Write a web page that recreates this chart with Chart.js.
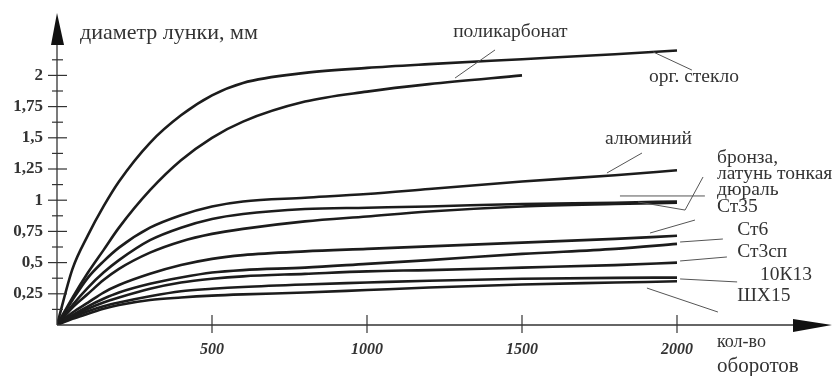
<!DOCTYPE html>
<html>
<head>
<meta charset="utf-8">
<script src="https://cdn.jsdelivr.net/npm/chart.js@4.4.0/dist/chart.umd.min.js"></script>
<style>
html,body{margin:0;padding:0;background:#fff;}
#wrap{width:832px;height:376px;position:relative;}
</style>
</head>
<body>
<div id="wrap"><canvas id="c"></canvas></div>
<script>
// ---- data ----
const rotations = [0, 50, 100, 150, 200, 300, 400, 500, 600, 800, 1000, 1200, 1500, 1800, 2000];
const orgGlass      = [0, 0.45, 0.72, 0.95, 1.15, 1.46, 1.68, 1.84, 1.94, 2.02, 2.06, 2.09, 2.13, 2.17, 2.20];
const polycarbonate = [0, 0.22, 0.42, 0.60, 0.78, 1.08, 1.32, 1.50, 1.63, 1.79, 1.87, 1.93, 2.00, null, null];
const aluminium     = [0, 0.20, 0.38, 0.51, 0.62, 0.78, 0.88, 0.95, 0.99, 1.02, 1.05, 1.09, 1.15, 1.20, 1.24];
const bronze        = [0, 0.16, 0.30, 0.42, 0.52, 0.68, 0.78, 0.85, 0.89, 0.93, 0.94, 0.95, 0.97, 0.98, 0.99];
const duralumin     = [0, 0.14, 0.25, 0.36, 0.45, 0.58, 0.67, 0.73, 0.77, 0.83, 0.87, 0.91, 0.95, 0.97, 0.98];
const st35          = [0, 0.10, 0.18, 0.26, 0.32, 0.41, 0.48, 0.53, 0.56, 0.59, 0.61, 0.63, 0.66, 0.69, 0.715];
const st6           = [0, 0.08, 0.15, 0.21, 0.26, 0.33, 0.38, 0.42, 0.44, 0.46, 0.49, 0.52, 0.57, 0.61, 0.65];
const st3sp         = [0, 0.07, 0.13, 0.18, 0.22, 0.29, 0.34, 0.37, 0.39, 0.41, 0.43, 0.44, 0.46, 0.48, 0.50];
const k13           = [0, 0.06, 0.11, 0.15, 0.18, 0.23, 0.27, 0.29, 0.305, 0.325, 0.34, 0.355, 0.37, 0.378, 0.38];
const shx15         = [0, 0.05, 0.09, 0.13, 0.16, 0.20, 0.22, 0.235, 0.245, 0.26, 0.28, 0.30, 0.325, 0.34, 0.35];

const seriesNames = ['орг. стекло', 'поликарбонат', 'алюминий', 'бронза, латунь тонкая', 'дюраль', 'Ст35', 'Ст6', 'Ст3сп', '10К13', 'ШХ15'];
const seriesValues = [orgGlass, polycarbonate, aluminium, bronze, duralumin, st35, st6, st3sp, k13, shx15];

const xTickValues = [500, 1000, 1500, 2000];
const xTickLabels = ['500', '1000', '1500', '2000'];
const yTickValues = [0.25, 0.5, 0.75, 1, 1.25, 1.5, 1.75, 2];
const yTickLabels = ['0,25', '0,5', '0,75', '1', '1,25', '1,5', '1,75', '2'];
const yMinorValues = [0.125, 0.375, 0.625, 0.875, 1.125, 1.375, 1.625, 1.875, 2.125];

const yTitle = 'диаметр лунки, мм';
const xTitle = ['кол-во', 'оборотов'];

// curve label texts, anchored in data units (rotations, mm)
const labelTexts = ['поликарбонат', 'орг. стекло', 'алюминий', 'бронза,', 'латунь тонкая', 'дюраль', 'Ст35', 'Ст6', 'Ст3сп', '10К13', 'ШХ15'];
const labelAnchorX = [1278, 1910, 1768, 2129, 2129, 2129, 2129, 2194, 2194, 2268, 2194];
const labelAnchorY = [2.352, 1.991, 1.494, 1.342, 1.214, 1.086, 0.950, 0.765, 0.589, 0.405, 0.236];

// leader lines [x1, y1, x2, y2] in data units
const leaderLines = [
  [1284, 1.979, 1413, 2.204],
  [1923, 2.188, 2048, 2.043],
  [1774, 1.218, 1887, 1.378],
  [2084, 1.186, 2026, 0.921],
  [2026, 0.921, 1874, 0.986],
  [1816, 1.034, 2090, 1.034],
  [1913, 0.737, 2058, 0.841],
  [2010, 0.665, 2148, 0.689],
  [2010, 0.513, 2161, 0.545],
  [2010, 0.369, 2194, 0.345],
  [1903, 0.296, 2132, 0.104]
];

const SERIF = '"Liberation Serif", "DejaVu Serif", serif';
const INK = '#1c1c1c';
const TXT = '#333';

const datasets = seriesValues.map((vals, i) => ({
  label: seriesNames[i],
  data: rotations.map((r, j) => ({x: r, y: vals[j]})).filter(p => p.y !== null),
  borderColor: INK,
  borderWidth: 2.6,
  pointRadius: 0,
  fill: false,
  cubicInterpolationMode: 'monotone'
}));

const axesPlugin = {
  id: 'axesPlugin',
  afterDraw(chart) {
    const ctx = chart.ctx;
    const xs = chart.scales.x, ys = chart.scales.y;
    const X = v => xs.getPixelForValue(v), Y = v => ys.getPixelForValue(v);
    const x0 = X(0), y0 = Y(0);
    const yTop = Y(2.5);
    ctx.save();
    ctx.strokeStyle = '#333';
    ctx.fillStyle = '#111';
    ctx.lineWidth = 1.3;
    // y axis
    ctx.beginPath();
    ctx.moveTo(x0, y0); ctx.lineTo(x0, yTop + 20);
    ctx.stroke();
    ctx.beginPath();
    ctx.moveTo(x0, yTop);
    ctx.lineTo(x0 - 6, yTop + 32);
    ctx.lineTo(x0 + 7, yTop + 32);
    ctx.closePath(); ctx.fill();
    // x axis
    const xr = X(2500);
    ctx.beginPath();
    ctx.moveTo(x0, y0); ctx.lineTo(xr - 20, y0);
    ctx.stroke();
    ctx.beginPath();
    ctx.moveTo(xr, y0);
    ctx.lineTo(xr - 39, y0 - 6);
    ctx.lineTo(xr - 39, y0 + 7);
    ctx.closePath(); ctx.fill();
    // y ticks
    ctx.lineWidth = 1.2;
    yTickValues.forEach(v => {
      ctx.beginPath(); ctx.moveTo(x0 - 9, Y(v)); ctx.lineTo(x0 + 10, Y(v)); ctx.stroke();
    });
    yMinorValues.forEach(v => {
      ctx.beginPath(); ctx.moveTo(x0 - 5, Y(v)); ctx.lineTo(x0 + 6, Y(v)); ctx.stroke();
    });
    // x ticks
    xTickValues.forEach(v => {
      ctx.beginPath(); ctx.moveTo(X(v), y0 - 10); ctx.lineTo(X(v), y0 + 8); ctx.stroke();
    });
    // leader lines
    ctx.strokeStyle = '#555';
    ctx.lineWidth = 1;
    leaderLines.forEach(l => {
      ctx.beginPath(); ctx.moveTo(X(l[0]), Y(l[1])); ctx.lineTo(X(l[2]), Y(l[3])); ctx.stroke();
    });
    // texts
    ctx.fillStyle = TXT;
    ctx.textAlign = 'left';
    ctx.textBaseline = 'middle';
    ctx.font = '19.5px ' + SERIF;
    labelTexts.forEach((t, i) => ctx.fillText(t, X(labelAnchorX[i]), Y(labelAnchorY[i])));
    ctx.font = '22px ' + SERIF;
    ctx.fillText(yTitle, x0 + 23, 33);
    ctx.font = '18px ' + SERIF;
    ctx.fillText(xTitle[0], X(2129), 342);
    ctx.font = '21px ' + SERIF;
    ctx.fillText(xTitle[1], X(2129), 366);
    ctx.restore();
  }
};

new Chart(document.getElementById('c'), {
  type: 'line',
  data: { datasets },
  options: {
    responsive: true,
    maintainAspectRatio: false,
    animation: false,
    layout: { padding: { top: 13, right: 0, left: 0, bottom: 0 } },
    plugins: { legend: { display: false }, tooltip: { enabled: false } },
    scales: {
      x: {
        type: 'linear', min: 0, max: 2500,
        afterFit: s => { s.height = 51; s.paddingLeft = 0; s.paddingRight = 0; },
        grid: { display: false, drawTicks: false }, border: { display: false },
        afterBuildTicks: s => { s.ticks = xTickValues.map(v => ({value: v})); },
        ticks: {
          autoSkip: false, maxRotation: 0, padding: 15, color: TXT,
          font: { family: SERIF, size: 16, style: 'italic', weight: 'bold' },
          callback: v => { const i = xTickValues.indexOf(v); return i >= 0 ? xTickLabels[i] : ''; }
        }
      },
      y: {
        type: 'linear', min: 0, max: 2.5,
        afterFit: s => { s.width = 57; s.paddingTop = 0; s.paddingBottom = 0; },
        grid: { display: false, drawTicks: false }, border: { display: false },
        afterBuildTicks: s => { s.ticks = yTickValues.map(v => ({value: v})); },
        ticks: {
          autoSkip: false, padding: 14, color: '#333',
          font: { family: SERIF, size: 17, weight: 'bold' },
          callback: v => { const i = yTickValues.indexOf(v); return i >= 0 ? yTickLabels[i] : ''; }
        }
      }
    }
  },
  plugins: [axesPlugin]
});
</script>
</body>
</html>
